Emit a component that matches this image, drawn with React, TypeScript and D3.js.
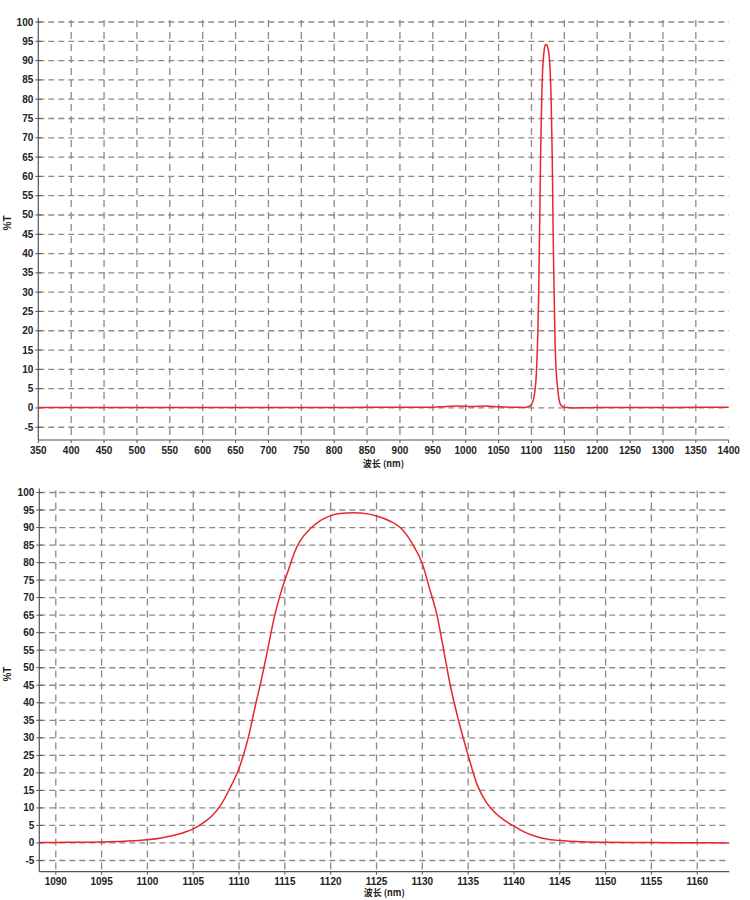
// @ts-nocheck
import * as d3 from 'd3';
import React, { useEffect, useRef } from 'react';

// zoomed scan around the pass band (nm, %T)
const bandWavelengths = [
  1088.2, 1090, 1092.5, 1095, 1097.5, 1100, 1101.5, 1102.8, 1104, 1105, 1106, 1107, 1108,
  1109, 1110, 1111, 1111.85, 1112.3, 1112.95, 1113.9, 1114.4,
  1115, 1115.6, 1116, 1116.6, 1117.9, 1119, 1120, 1121, 1122.5, 1124, 1125, 1126.5, 1127.6,
  1128.9, 1130, 1130.8, 1131.6, 1132.5, 1133.05, 1133.95, 1135, 1136, 1137, 1138, 1139, 1140,
  1141, 1142, 1143, 1144, 1145, 1147.5, 1150, 1155, 1160, 1163.5,
];
const bandTransmission = [
  0.1, 0.15, 0.2, 0.3, 0.5, 0.9, 1.4, 2.1, 3.0, 4.0, 5.6, 7.6, 10.8,
  15.6, 21.3, 30, 40, 45, 53, 65, 70,
  75, 79.5, 82.6, 85.9, 90, 92.2, 93.4, 94, 94.2, 93.9, 93.3, 91.8, 90,
  85.4, 79.7, 72.5, 65, 52.6, 45, 35, 25, 16.5, 11.5, 8.5, 6.4, 4.8,
  3.3, 2.2, 1.4, 0.95, 0.7, 0.35, 0.2, 0.1, 0.05, 0.0,
];

// full scan baseline outside the band (nm, %T)
const lowWavelengths = [350, 400, 450, 500, 550, 600, 650, 700, 750, 800, 850, 900, 950, 970, 990, 1010, 1030, 1050, 1070, 1085];
const lowTransmission = [0.1, 0.1, 0.1, 0.1, 0.1, 0.1, 0.1, 0.15, 0.1, 0.1, 0.2, 0.2, 0.2, 0.4, 0.5, 0.4, 0.5, 0.3, 0.2, 0.2];
const highWavelengths = [1180, 1200, 1250, 1300, 1350, 1400];
const highTransmission = [0.05, 0.1, 0.1, 0.1, 0.2, 0.2];

const fullXTicks = [350, 400, 450, 500, 550, 600, 650, 700, 750, 800, 850, 900, 950, 1000, 1050, 1100, 1150, 1200, 1250, 1300, 1350, 1400];
const bandXTicks = [1090, 1095, 1100, 1105, 1110, 1115, 1120, 1125, 1130, 1135, 1140, 1145, 1150, 1155, 1160];
const yTicks = [-5, 0, 5, 10, 15, 20, 25, 30, 35, 40, 45, 50, 55, 60, 65, 70, 75, 80, 85, 90, 95, 100];

const zip = (xs, ys) => xs.map((x, i) => ({ x, y: ys[i] }));
const fullSeries = [
  ...zip(lowWavelengths, lowTransmission),
  ...zip(bandWavelengths, bandTransmission),
  ...zip(highWavelengths, highTransmission),
];
const bandSeries = zip(bandWavelengths, bandTransmission);

const FONT = '"Liberation Sans", Arial, sans-serif';

function drawPanel(svg, opts) {
  const { data, xDomain, yDomain, left, right, top, bottom, xTicks, labelGap, titleGap } = opts;
  const x = d3.scaleLinear().domain(xDomain).range([left, right]);
  const y = d3.scaleLinear().domain(yDomain).range([bottom, top]);
  const g = svg.append('g');

  // horizontal grid
  g.selectAll('.hgrid')
    .data(yTicks)
    .enter()
    .append('line')
    .attr('x1', left)
    .attr('x2', right)
    .attr('y1', d => y(d))
    .attr('y2', d => y(d))
    .attr('stroke', '#8a8a8a')
    .attr('stroke-width', 1.3)
    .attr('stroke-dasharray', '6,4');

  // vertical grid
  g.selectAll('.vgrid')
    .data(xTicks.filter(d => x(d) > left + 2 && x(d) < right - 2))
    .enter()
    .append('line')
    .attr('x1', d => x(d))
    .attr('x2', d => x(d))
    .attr('y1', top - 2)
    .attr('y2', bottom)
    .attr('stroke', '#8a8a8a')
    .attr('stroke-width', 1.3)
    .attr('stroke-dasharray', '7,5');

  // axis lines
  g.append('line')
    .attr('x1', left)
    .attr('x2', left)
    .attr('y1', top - 4)
    .attr('y2', bottom)
    .attr('stroke', '#555')
    .attr('stroke-width', 1.2);
  g.append('line')
    .attr('x1', left)
    .attr('x2', right)
    .attr('y1', bottom)
    .attr('y2', bottom)
    .attr('stroke', '#555')
    .attr('stroke-width', 1.2);

  // y ticks + labels
  g.selectAll('.ytick')
    .data(yTicks)
    .enter()
    .append('line')
    .attr('x1', left - 3)
    .attr('x2', left + 3)
    .attr('y1', d => y(d))
    .attr('y2', d => y(d))
    .attr('stroke', '#555');
  g.selectAll('.ylab')
    .data(yTicks)
    .enter()
    .append('text')
    .attr('x', left - 5)
    .attr('y', d => y(d))
    .attr('dy', '0.35em')
    .attr('text-anchor', 'end')
    .style('font-family', FONT)
    .style('font-size', '10px')
    .style('font-weight', 'bold')
    .style('fill', '#222')
    .text(d => d);

  // x ticks + labels
  g.selectAll('.xtick')
    .data(xTicks)
    .enter()
    .append('line')
    .attr('x1', d => x(d))
    .attr('x2', d => x(d))
    .attr('y1', bottom)
    .attr('y2', bottom + 3)
    .attr('stroke', '#555');
  g.selectAll('.xlab')
    .data(xTicks)
    .enter()
    .append('text')
    .attr('x', d => x(d))
    .attr('y', bottom + labelGap)
    .attr('text-anchor', 'middle')
    .style('font-family', FONT)
    .style('font-size', '10px')
    .style('font-weight', 'bold')
    .style('fill', '#222')
    .text(d => d);

  // axis titles
  g.append('text')
    .attr('x', (left + right) / 2)
    .attr('y', bottom + titleGap)
    .attr('text-anchor', 'middle')
    .style('font-family', '"Noto Sans CJK SC", sans-serif')
    .style('font-size', '9px')
    .style('font-weight', 'bold')
    .style('fill', '#222')
    .text('波长 (nm)');
  g.append('text')
    .attr('transform', `translate(11, ${(top + bottom) / 2 - 8}) rotate(-90)`)
    .attr('text-anchor', 'middle')
    .style('font-family', FONT)
    .style('font-size', '10px')
    .style('font-weight', 'bold')
    .style('fill', '#222')
    .text('%T');

  const line = d3
    .line()
    .x(d => x(d.x))
    .y(d => y(d.y))
    .curve(d3.curveMonotoneX);

  g.append('path')
    .datum(data)
    .attr('fill', 'none')
    .attr('stroke', '#e8262c')
    .attr('stroke-width', 1.5)
    .attr('d', line);
}

export default function App() {
  const svgRef = useRef(null);

  useEffect(() => {
    if (!svgRef.current) return;
    const svg = d3.select(svgRef.current);
    svg.selectAll('*').remove();

    drawPanel(svg, {
      data: fullSeries,
      xDomain: [350, 1400],
      yDomain: [-8.3, 100],
      left: 38.3,
      right: 728.7,
      top: 22,
      bottom: 440,
      xTicks: fullXTicks,
      labelGap: 14,
      titleGap: 27,
    });

    drawPanel(svg, {
      data: bandSeries,
      xDomain: [1088.2, 1163.5],
      yDomain: [-8.2, 100],
      left: 39.3,
      right: 729.3,
      top: 492.5,
      bottom: 871.7,
      xTicks: bandXTicks,
      labelGap: 13,
      titleGap: 24.5,
    });
  }, []);

  return (
    <svg
      ref={svgRef}
      width={750}
      height={900}
      style={{ position: 'absolute', left: 0, top: 0, background: '#fff' }}
    />
  );
}
